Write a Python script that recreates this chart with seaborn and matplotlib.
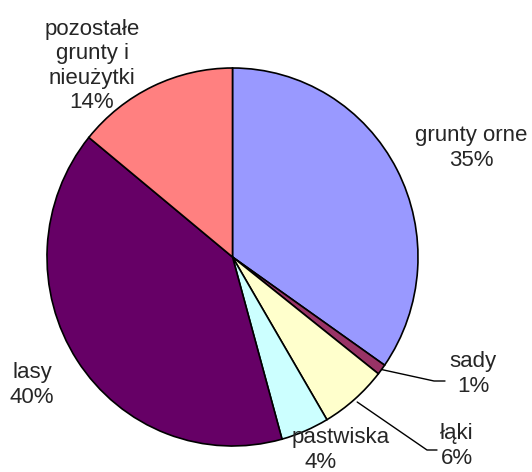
import numpy as np
import matplotlib
matplotlib.use("Agg")
import matplotlib.pyplot as plt
import seaborn as sns

sns.set_style("white")
plt.rcParams['font.family'] = ['Liberation Sans', 'DejaVu Sans']

# land use shares (%), clockwise from 12 o'clock
categories = ["grunty orne", "sady", "łąki", "pastwiska", "lasy",
              "pozostałe\ngrunty i\nnieużytki"]
values = [34.7, 0.9, 5.9, 4.2, 40.2, 14.1]
colors = ["#9999FF", "#993366", "#FFFFCC", "#CCFFFF", "#660066", "#FF8080"]

W, H = 532, 472
fig = plt.figure(figsize=(W / 100, H / 100), dpi=100)

# pie centred at (232, 257) px, radius ~186 x 189 px
cx, cy, rx, ry = 232.5, 257, 185.5, 189
ax = fig.add_axes([(cx - rx) / W, (H - cy - ry) / H, 2 * rx / W, 2 * ry / H])
wedges, _ = ax.pie(values, colors=colors, startangle=90, counterclock=False,
                   wedgeprops=dict(edgecolor="black", linewidth=1.2))
ax.set_aspect("auto")
ax.set_xlim(-1, 1)
ax.set_ylim(-1, 1)
ax.axis("off")


def px(x, y):
    return x / W, 1 - y / H


fs = 16
pct = [f"{round(v):.0f}%" for v in values]

# labels
fig.text(*px(471, 148), f"{categories[0]}\n{pct[0]}", ha="center", va="center",
         fontsize=fs, linespacing=1.2)
fig.text(*px(473, 374), f"{categories[1]}\n{pct[1]}", ha="center", va="center",
         fontsize=fs, linespacing=1.2)
fig.text(*px(457, 446), f"{categories[2]}\n{pct[2]}", ha="center", va="center",
         fontsize=fs, linespacing=1.2)
fig.text(*px(341, 438), categories[3], ha="center", va="center", fontsize=fs)
fig.text(*px(321, 463), pct[3], ha="center", va="center", fontsize=fs)
fig.text(*px(32, 385), f"{categories[4]}\n{pct[4]}", ha="center", va="center",
         fontsize=fs, linespacing=1.2)
fig.text(*px(92, 66), f"{categories[5]}\n{pct[5]}", ha="center", va="center",
         fontsize=fs, linespacing=1.2)

# leader lines for small slices (start at wedge edge midpoint)
def edge_point(i, k=1.0):
    w = wedges[i]
    theta = np.deg2rad((w.theta1 + w.theta2) / 2)
    return cx + k * rx * np.cos(theta), cy - k * ry * np.sin(theta)

for i, k, (kx, ky, ex) in [(1, 1.0, (434, 381, 445)), (2, 1.02, (427, 450, 437))]:
    sx, sy = edge_point(i, k)
    xs = [sx, kx, ex]
    ys = [sy, ky, ky]
    fig.add_artist(plt.Line2D([x / W for x in xs], [1 - y / H for y in ys],
                              color="black", linewidth=1.0))

fig.savefig("out.png", dpi=100)
